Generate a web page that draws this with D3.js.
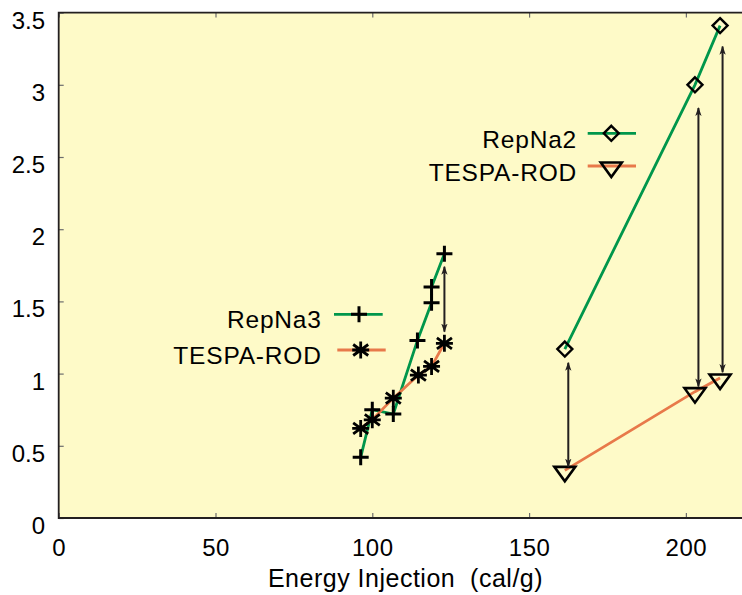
<!DOCTYPE html>
<html>
<head>
<meta charset="utf-8">
<script src="https://cdn.jsdelivr.net/npm/d3@7"></script>
<style>
  body { margin: 0; background: #fff; }
  svg { display: block; font-family: "Liberation Sans", Arial, sans-serif; }
</style>
</head>
<body>
<div id="chart"></div>
<script>
// Data.
const xTicks = [0, 50, 100, 150, 200];
const yTicks = [0, 0.5, 1, 1.5, 2, 2.5, 3, 3.5];

const repNa3X = [96.3, 100.0, 106.7, 114.4, 118.9, 118.9, 123.0];
const repNa3Y = [0.42, 0.75, 0.72, 1.23, 1.49, 1.60, 1.83];
const tespa3X = [96.3, 100.0, 106.7, 114.7, 118.9, 123.0];
const tespa3Y = [0.62, 0.68, 0.83, 0.99, 1.05, 1.21];

const repNa2X = [161.4, 202.9, 210.9];
const repNa2Y = [1.17, 3.00, 3.41];
const tespa2X = [161.4, 202.9, 210.9];
const tespa2Y = [0.33, 0.875, 0.97];

// Double headed arrows: x, lower tip, upper tip.
const arrowX = [123.0, 162.5, 204.0, 211.7];
const arrowLo = [1.29, 0.355, 0.91, 1.01];
const arrowHi = [1.74, 1.075, 2.84, 3.265];

const green = '#00964b';
const orange = '#e8794a';
const ink = '#231f20';

const W = 742, H = 595;
const svg = d3.select('#chart').append('svg')
    .attr('width', W)
    .attr('height', H);

const x = d3.scaleLinear().domain([0, 220]).range([58.7, 748.6]);
const y = d3.scaleLinear().domain([0, 3.5]).range([518, 12.6]);

// Plot background.
svg.append('rect')
    .attr('x', x(0)).attr('y', y(3.5))
    .attr('width', W - x(0)).attr('height', y(0) - y(3.5))
    .attr('fill', '#fefac8');

// Ticks (inward, mirrored on top).
const xAxis = svg.append('g')
    .attr('transform', `translate(0,${y(0)})`)
    .call(d3.axisBottom(x).tickValues(xTicks).tickSize(-5).tickPadding(0).tickFormat(d3.format('d')));
const xAxisTop = svg.append('g')
    .attr('transform', `translate(0,${y(3.5)})`)
    .call(d3.axisTop(x).tickValues(xTicks).tickSize(-5).tickFormat(''));
const yAxis = svg.append('g')
    .attr('transform', `translate(${x(0)},0)`)
    .call(d3.axisLeft(y).tickValues(yTicks).tickSize(-5).tickFormat(d => d3.format('')(d)));

[xAxis, xAxisTop, yAxis].forEach(g => {
    g.select('.domain').remove();
    g.selectAll('.tick line').attr('stroke', '#6d6d6d').attr('stroke-width', 1.2);
});
xAxis.selectAll('text')
    .attr('y', 38).attr('dy', null)
    .attr('fill', '#000').style('font-size', '24px').style('letter-spacing', '0.5px');
yAxis.selectAll('text')
    .attr('x', -13.7).attr('dy', null).attr('y', 15.5)
    .attr('fill', '#000').style('font-size', '24px');

// Frame: left, bottom, top (right edge is off the canvas).
svg.append('path')
    .attr('d', `M${W + 2},${y(3.5)}H${x(0)}V${y(0)}H${W + 2}`)
    .attr('fill', 'none')
    .attr('stroke', ink)
    .attr('stroke-width', 1.8);

// Axis title.
svg.append('text')
    .attr('x', 405.5).attr('y', 587)
    .attr('text-anchor', 'middle')
    .style('font-size', '25px')
    .style('letter-spacing', '0.5px')
    .style('white-space', 'pre')
    .attr('xml:space', 'preserve')
    .text('Energy Injection  (cal/g)');

const zip = (xs, ys) => xs.map((v, i) => [v, ys[i]]);
const line = d3.line().x(d => x(d[0])).y(d => y(d[1]));

const series = [
    {name: 'RepNa3', pts: zip(repNa3X, repNa3Y), color: green, mark: 'plus'},
    {name: 'TESPA-ROD', pts: zip(tespa3X, tespa3Y), color: orange, mark: 'star'},
    {name: 'RepNa2', pts: zip(repNa2X, repNa2Y), color: green, mark: 'diamond'},
    {name: 'TESPA-ROD', pts: zip(tespa2X, tespa2Y), color: orange, mark: 'tri'}
];

// Lines first.
series.forEach(s => {
    svg.append('path')
        .attr('d', line(s.pts))
        .attr('fill', 'none')
        .attr('stroke', s.color)
        .attr('stroke-width', 2.8);
});

// Marker shapes.
function drawMark(g, kind, cx, cy) {
    const m = g.append('g').attr('transform', `translate(${cx},${cy})`)
        .attr('fill', 'none').attr('stroke', '#000');
    if (kind === 'plus') {
        m.append('path').attr('d', 'M-8,0H8M0,-8V8').attr('stroke-width', 3);
    } else if (kind === 'star') {
        m.append('path')
            .attr('d', 'M0,-8.5V8.5M-7.5,-5.5L7.5,5.5M-7.5,5.5L7.5,-5.5M-8.5,0H8.5')
            .attr('stroke-width', 2.8);
    } else if (kind === 'diamond') {
        m.append('path').attr('d', 'M0,-7.5L7.5,0L0,7.5L-7.5,0Z').attr('stroke-width', 2.4);
    } else if (kind === 'tri') {
        m.append('path').attr('d', 'M-10.5,-3.5H10.5L0,11Z').attr('stroke-width', 2.6)
            .attr('stroke-linejoin', 'miter');
    }
}

series.forEach(s => {
    s.pts.forEach(p => drawMark(svg, s.mark, x(p[0]), y(p[1])));
});

// Arrows.
svg.append('defs').append('marker')
    .attr('id', 'head')
    .attr('viewBox', '0 0 10 10')
    .attr('refX', 9).attr('refY', 5)
    .attr('markerWidth', 9).attr('markerHeight', 9)
    .attr('markerUnits', 'userSpaceOnUse')
    .attr('orient', 'auto-start-reverse')
    .append('path')
        .attr('d', 'M0,1.5L10,5L0,8.5L2.5,5Z')
        .attr('fill', ink);

arrowX.forEach((ax, i) => {
    svg.append('line')
        .attr('x1', x(ax)).attr('x2', x(ax))
        .attr('y1', y(arrowLo[i])).attr('y2', y(arrowHi[i]))
        .attr('stroke', ink)
        .attr('stroke-width', 2)
        .attr('marker-start', 'url(#head)')
        .attr('marker-end', 'url(#head)');
});

// Legends.
const legends = [
    {s: series[0], tx: 321.7, ty: 328, x1: 334, x2: 382.7, ly: 314.3, mx: 359},
    {s: series[1], tx: 321.7, ty: 364, x1: 337.3, x2: 385.7, ly: 350, mx: 360.7},
    {s: series[2], tx: 577, ty: 148.3, x1: 587.7, x2: 636, ly: 133.3, mx: 611.3},
    {s: series[3], tx: 577, ty: 180.5, x1: 587.7, x2: 636, ly: 166, mx: 611.3}
];
legends.forEach(l => {
    svg.append('text')
        .attr('x', l.tx).attr('y', l.ty)
        .attr('text-anchor', 'end')
        .style('font-size', '24.5px')
        .style('letter-spacing', '0.8px')
        .text(l.s.name);
    svg.append('line')
        .attr('x1', l.x1).attr('x2', l.x2)
        .attr('y1', l.ly).attr('y2', l.ly)
        .attr('stroke', l.s.color)
        .attr('stroke-width', 2.8);
    drawMark(svg, l.s.mark, l.mx, l.ly);
});
</script>
</body>
</html>
